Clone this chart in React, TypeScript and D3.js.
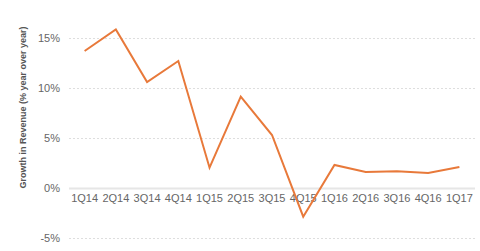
import React from "react";
import * as d3 from "d3";

const categories = ["1Q14","2Q14","3Q14","4Q14","1Q15","2Q15","3Q15","4Q15","1Q16","2Q16","3Q16","4Q16","1Q17"];
const growth = [13.75, 15.9, 10.65, 12.75, 2.08, 9.18, 5.35, -2.82, 2.35, 1.65, 1.72, 1.55, 2.15];
const yTicks = [-5, 0, 5, 10, 15];

export default function App() {
  const W = 480, H = 251;
  const x = d3.scaleBand<string>().domain(categories).range([69, 475]);
  const y = d3.scaleLinear().domain([-5, 15]).range([238.5, 38.5]);
  const line = d3.line<number>()
    .x((_, i) => (x(categories[i]) as number) + x.bandwidth() / 2)
    .y((d) => y(d));
  const font = "Arial, 'Liberation Sans', sans-serif";
  return (
    <svg width={W} height={H} style={{ position: "absolute", left: 0, top: 0, background: "#fff" }}>
      {yTicks.map((t) => (
        <g key={t}>
          <line x1={69} x2={475} y1={y(t)} y2={y(t)}
            stroke={t === 0 ? "#e6e6e6" : "#dedede"} strokeWidth={t === 0 ? 2 : 1}
            strokeDasharray={t === 0 ? undefined : "2,2"} />
          <text x={60} y={y(t)} dy="0.35em" textAnchor="end" fontFamily={font} fontSize={11} fill="#666">{t}%</text>
        </g>
      ))}
      {categories.map((c) => (
        <text key={c} x={(x(c) as number) + x.bandwidth() / 2} y={202} textAnchor="middle" fontFamily={font} fontSize={11} fill="#666">{c}</text>
      ))}
      <path d={line(growth) || ""} fill="none" stroke="#e8793a" strokeWidth={2} strokeLinejoin="miter" />
      <text transform={`translate(26,107.5) rotate(-90)`} textAnchor="middle" fontFamily={font} fontSize={9} fontWeight="bold" fill="#555">Growth in Revenue (% year over year)</text>
    </svg>
  );
}
